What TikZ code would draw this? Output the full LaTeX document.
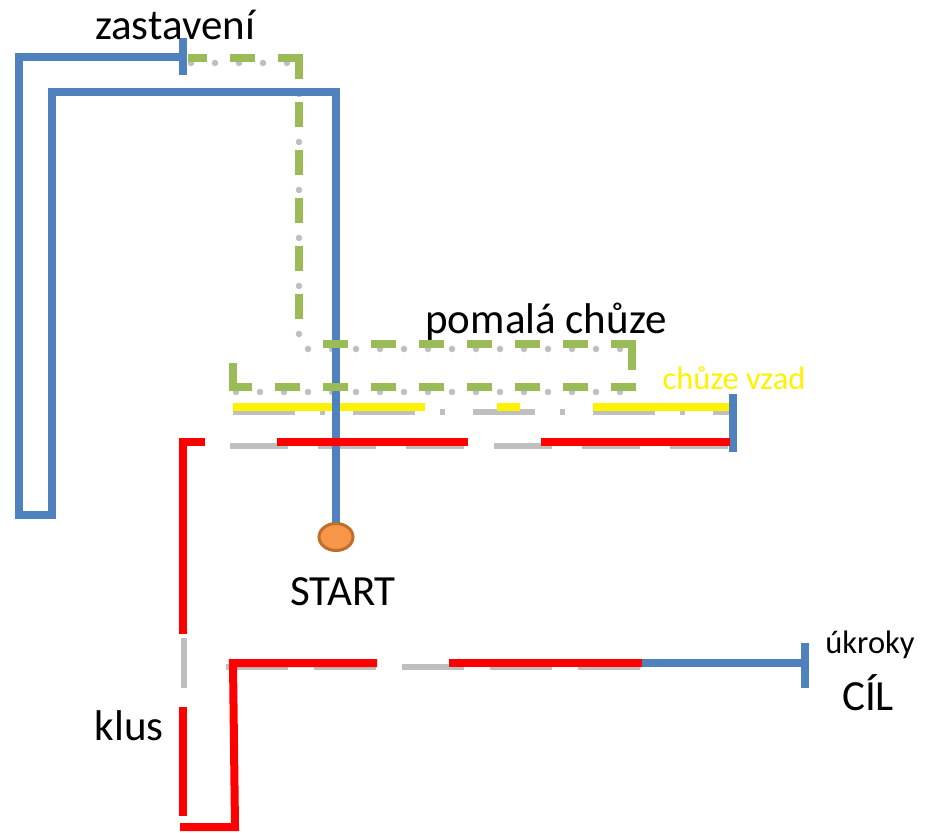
\documentclass[tikz,border=0pt]{standalone}
\usepackage{fontspec}
\setmainfont{Carlito}
\definecolor{pathblue}{RGB}{79,129,189}
\definecolor{pathgreen}{RGB}{155,187,89}
\definecolor{dotorange}{RGB}{247,150,70}
\definecolor{dotrim}{RGB}{190,110,45}
\begin{document}
\begin{tikzpicture}[x=1pt,y=-1pt,
  bluepath/.style={draw=pathblue,line width=7.5pt},
  redpath/.style={draw=red,line width=8pt},
  yellowpath/.style={draw=yellow,line width=7.5pt},
  greenpath/.style={draw=pathgreen,line width=7.5pt,line cap=rect,dash pattern=on 17pt off 31pt},
  greypath/.style={draw=black!25,line width=6pt},
  greydots/.style={draw=black!25,line width=6.5pt,line cap=round,dash pattern=on 0pt off 24pt},
  bigtxt/.style={anchor=base,inner sep=0pt,font=\fontsize{43}{50}\selectfont},
  smalltxt/.style={anchor=base,inner sep=0pt,font=\fontsize{32.5}{38}\selectfont}]
\useasboundingbox (0,0) rectangle (925,832);
% shadows
\draw[greypath,dash pattern=on 58pt off 30pt] (230,446) -- (730,446);
\draw[greypath,dash pattern=on 62pt off 25pt on 5pt off 28pt] (233,412) -- (730,412);
\draw[greypath,dash pattern=on 62pt off 26pt] (226,667) -- (642,667);
\draw[greypath] (184,638) -- (184,688);
\foreach \xa/\ya/\xb/\yb in {287/63/190/63, 299/70/299/340, 620/349/300/349, 620/392/236/392}
    \draw[greydots] (\xa,\ya) -- (\xb,\yb);
% chuze vzad
\draw[yellowpath] (233,407) -- (425,407);
\draw[yellowpath] (497,407) -- (520,407);
\draw[yellowpath] (593,407) -- (730,407);
% zastaveni, ukroky
\draw[bluepath] (336,524) -- (336,92) -- (52,92) -- (52,515) -- (19,515) -- (19,57) -- (183,57);
\draw[bluepath] (183,38) -- (183,75);
\draw[bluepath] (733,394) -- (733,452);
\draw[bluepath] (642,663) -- (805,663);
\draw[bluepath] (805,643) -- (805,688);
% klus
\draw[redpath] (205,442) -- (183,442) -- (183,634);
\draw[redpath] (277,442) -- (468,442);
\draw[redpath] (541,442) -- (730,442);
\draw[redpath] (183,707) -- (183,816);
\draw[redpath] (180,827) -- (235,827) -- (233,663) -- (377,663);
\draw[redpath] (449,663) -- (642,663);
% pomala chuze
\foreach \xa/\ya/\xb/\yb in {299/58/192/58, 299/58/299/344, 632/344/299/344, 632/387/233/387}
    \draw[greenpath] (\xa,\ya) -- (\xb,\yb);
\draw[greenpath,solid] (632,344) -- (632,366);
\draw[greenpath,solid] (233,387) -- (233,367);
% start
\draw[draw=dotrim,fill=dotorange,line width=3pt] (336,537) ellipse [x radius=17, y radius=13.5];
\node[bigtxt] (zastaveni) at (175,40) {zastavení};
\node[bigtxt] (pomala) at (546,333) {pomalá chůze};
\node[smalltxt,text=yellow] (vzad) at (734,389) {chůze vzad};
\node[bigtxt] (start) at (343,605) {START};
\node[smalltxt] (ukroky) at (870,653) {úkroky};
\node[bigtxt] (cil) at (868,710) {CÍL};
\node[bigtxt] (klus) at (129,740) {klus};
\end{tikzpicture}
\end{document}
